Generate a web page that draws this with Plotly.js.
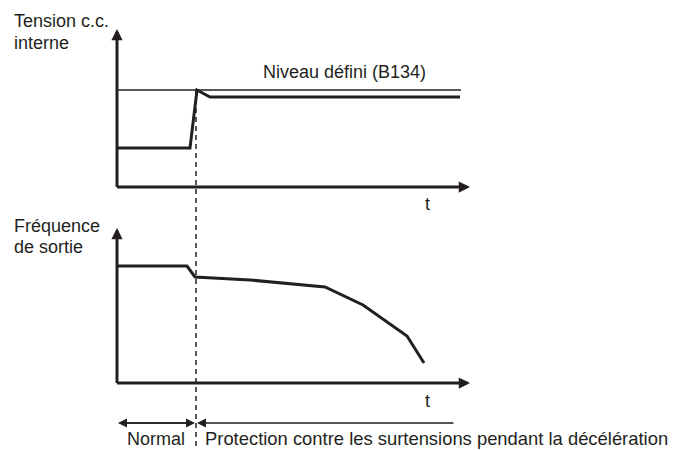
<!DOCTYPE html>
<html><head><meta charset="utf-8">
<script src="https://cdn.plot.ly/plotly-3.0.1.min.js"></script>
<style>body{margin:0;background:#fff}#c{width:675px;height:450px}</style>
</head><body><div id="c"></div>
<script>
// time (arbitrary units) and values
var voltT = [1, 73, 80, 93, 343];
var voltV = [39, 39, 97, 90, 90];
var levelT = [0, 344];
var levelV = [97, 97];
var freqT = [1, 70, 78, 133, 208, 246, 290, 307];
var freqV = [117, 117, 106, 103, 96, 78, 47, 20];
var switchT = 79;
var labelsTop = ["Tension c.c.", "interne"];
var labelsBot = ["Fréquence", "de sortie"];
var levelLabel = "Niveau défini (B134)";
var phaseLabels = ["Normal", "Protection contre les surtensions pendant la décélération"];

var W = 675, H = 450;
var font = {family: '"Liberation Sans", Arial, sans-serif', size: 18, color: "#231f20"};
var ink = "#231f20";
function px(x){return x/W;}
function py(y){return 1 - y/H;}

var traces = [
  {x: levelT, y: levelV, xaxis: "x", yaxis: "y", mode: "lines", line: {color: ink, width: 1.3}},
  {x: voltT, y: voltV, xaxis: "x", yaxis: "y", mode: "lines", line: {color: ink, width: 3}},
  {x: freqT, y: freqV, xaxis: "x", yaxis: "y2", mode: "lines", line: {color: ink, width: 3}},
  {x: [switchT, switchT], y: [97, -263], xaxis: "x", yaxis: "y", mode: "lines", line: {color: ink, width: 1.5, dash: "5px,4px"}}
];

function arrow(x, y, ax, ay, yref, w, size){
  return {x: x, y: y, ax: ax, ay: ay, xref: "x", yref: yref, axref: "x", ayref: yref,
    showarrow: true, text: "", arrowhead: 2, arrowsize: size, arrowwidth: w, arrowcolor: ink, standoff: 0, startstandoff: 0};
}
function label(text, x, y, anchor, size){
  var f = Object.assign({}, font);
  if (size) f.size = size;
  return {text: text, x: px(x), y: py(y), xref: "paper", yref: "paper", showarrow: false,
    xanchor: anchor || "left", yanchor: "middle", borderpad: 0, font: f};
}

var annotations = [
  // top axes
  arrow(0, 158, 0, -1.5, "y", 3, 0.75),
  arrow(353, 0, -1.5, 0, "y", 3, 0.75),
  // bottom axes
  arrow(0, 155, 0, -1.5, "y2", 3, 0.75),
  arrow(353, 0, -1.5, 0, "y2", 3, 0.75),
  // phase arrows
  arrow(1, -40, 77, -40, "y2", 1.5, 1.2),
  arrow(78, -40, 1, -40, "y2", 1.5, 1.2),
  arrow(80, -40, 338, -40, "y2", 1.5, 1.2),
  label(labelsTop[0], 13, 21),
  label(labelsTop[1], 13, 43),
  label(labelsBot[0], 13, 226),
  label(labelsBot[1], 13, 247),
  label(levelLabel, 427, 72, "right"),
  label("t", 427, 204, "center"),
  label("t", 427, 401, "center"),
  label(phaseLabels[0], 156, 438.5, "center"),
  label(phaseLabels[1], 204, 438.5, "left", 18.4)
];

var layout = {
  width: W, height: H, margin: {l: 0, r: 0, t: 0, b: 0},
  paper_bgcolor: "#fff", plot_bgcolor: "#fff", showlegend: false,
  xaxis: {range: [-117, 558], visible: false, fixedrange: true},
  yaxis: {range: [-263, 187], visible: false, domain: [0, 1]},
  yaxis2: {range: [-67, 383], visible: false, overlaying: "y"},
  annotations: annotations
};
Plotly.newPlot("c", traces, layout, {staticPlot: true, displayModeBar: false});
</script></body></html>
